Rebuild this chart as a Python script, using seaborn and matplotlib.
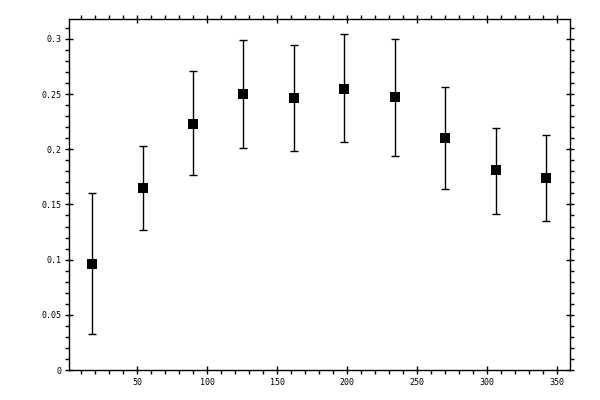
import numpy as np
import pandas as pd
import matplotlib
matplotlib.use('Agg')
import matplotlib.pyplot as plt
import seaborn as sns
from matplotlib.ticker import MultipleLocator

# values
x_vals = [18, 54, 90, 126, 162, 198, 234, 270, 306, 342]
y_vals = [0.096, 0.165, 0.223, 0.250, 0.246, 0.255, 0.247, 0.210, 0.181, 0.174]
y_upper = [0.160, 0.203, 0.271, 0.299, 0.294, 0.304, 0.300, 0.256, 0.219, 0.213]
y_lower = [0.033, 0.127, 0.177, 0.201, 0.198, 0.207, 0.194, 0.164, 0.141, 0.135]


def main():
    sns.set_style('ticks')
    plt.rcParams['font.family'] = ['DejaVu Sans Mono']

    df = pd.DataFrame({'x': x_vals, 'y': y_vals, 'hi': y_upper, 'lo': y_lower})

    fig = plt.figure(figsize=(6, 4), dpi=100)
    ax = fig.add_axes([0.115, 0.075, 0.835, 0.8775])

    ax.errorbar(df['x'], df['y'], yerr=[df['y'] - df['lo'], df['hi'] - df['y']],
                fmt='none', ecolor='black', elinewidth=1.0, capsize=3, capthick=1.0)
    sns.scatterplot(data=df, x='x', y='y', marker='s', s=50, color='black',
                    edgecolor='black', linewidth=0, ax=ax, zorder=3)

    ax.set_xlim(1.5, 359)
    ax.set_ylim(0, 0.318)
    ax.set_xlabel('')
    ax.set_ylabel('')

    ax.xaxis.set_major_locator(MultipleLocator(50))
    ax.xaxis.set_minor_locator(MultipleLocator(10))
    ax.yaxis.set_major_locator(MultipleLocator(0.05))
    ax.yaxis.set_minor_locator(MultipleLocator(0.01))
    ax.yaxis.set_major_formatter(plt.FuncFormatter(lambda v, p: f'{v:g}'))
    ax.set_xticks([50, 100, 150, 200, 250, 300, 350])

    for s in ax.spines.values():
        s.set_visible(True)
        s.set_linewidth(1.0)
        s.set_color('black')

    ax.tick_params(which='major', direction='inout', length=5.5, width=1.0,
                   top=True, right=True, labelsize=6, colors='black', pad=3)
    ax.tick_params(which='minor', direction='out', length=3, width=1.0,
                   top=True, right=True, colors='black')

    plt.savefig('out.png', dpi=100)


if __name__ == '__main__':
    main()
